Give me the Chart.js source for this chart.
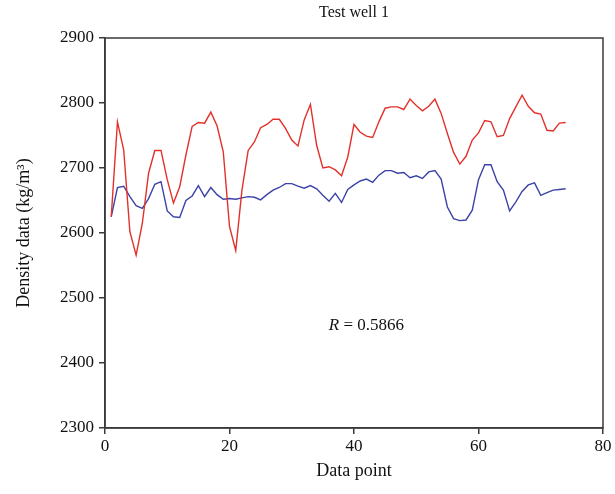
<!DOCTYPE html>
<html>
<head>
<meta charset="utf-8">
<script src="https://cdn.jsdelivr.net/npm/chart.js@4/dist/chart.umd.min.js"></script>
<style>
  body { margin: 0; background: #fff; }
  #wrap { width: 615px; height: 494px; }
</style>
</head>
<body>
<div id="wrap"><canvas id="densityChart" width="615" height="494"></canvas></div>
<script>
// data points 1..74
var points = []
for (var i = 1; i <= 74; i++) points.push(i)

var redSeries = [2625, 2771, 2728, 2602, 2566, 2615, 2692, 2727, 2727, 2682,
  2646, 2671, 2720, 2764, 2770, 2769, 2786, 2765, 2725, 2610,
  2573, 2666, 2727, 2740, 2762, 2767, 2775, 2775, 2761, 2743,
  2734, 2774, 2798, 2735, 2700, 2702, 2697, 2688, 2717, 2767,
  2755, 2749, 2747, 2771, 2792, 2794, 2794, 2790, 2806, 2796,
  2788, 2795, 2806, 2784, 2753, 2724, 2706, 2718, 2743, 2754,
  2773, 2771, 2748, 2750, 2776, 2794, 2812, 2795, 2785, 2783,
  2758, 2757, 2769, 2770]

var blueSeries = [2625, 2670, 2672, 2656, 2642, 2638, 2653, 2675, 2679, 2634,
  2625, 2624, 2650, 2657, 2673, 2656, 2670, 2659, 2652, 2653,
  2652, 2654, 2656, 2655, 2651, 2659, 2666, 2670, 2676, 2676,
  2672, 2669, 2673, 2668, 2658, 2649, 2661, 2647, 2667, 2674,
  2680, 2683, 2678, 2689, 2696, 2696, 2692, 2693, 2685, 2688,
  2684, 2694, 2696, 2683, 2640, 2622, 2619, 2620, 2635, 2682,
  2705, 2705, 2679, 2666, 2634, 2648, 2664, 2674, 2677, 2658,
  2662, 2666, 2667, 2668]

var xTicks = [0, 20, 40, 60, 80]
var yTicks = [2300, 2400, 2500, 2600, 2700, 2800, 2900]
var chartTitle = 'Test well 1'
var rText = '0.5866'

var serif = '"Liberation Serif", "DejaVu Serif", serif'
var axisColor = '#3a3a3a'

function toXY(vals) {
  return vals.map(function (v, k) { return { x: points[k], y: v } })
}

var framePlugin = {
  id: 'frame',
  afterDraw: function (chart) {
    var ctx = chart.ctx
    var a = chart.chartArea
    ctx.save()
    ctx.strokeStyle = axisColor
    ctx.lineWidth = 1.5
    ctx.strokeRect(a.left, a.top, a.right - a.left, a.bottom - a.top)
    // title
    ctx.fillStyle = '#111'
    ctx.font = '16px ' + serif
    ctx.textAlign = 'center'
    ctx.textBaseline = 'middle'
    ctx.fillText(chartTitle, (a.left + a.right) / 2, 13)
    // R annotation
    var xs = chart.scales.x, ys = chart.scales.y
    var px = xs.getPixelForValue(42), py = ys.getPixelForValue(2458)
    var r = 'R'
    ctx.font = '17px ' + serif
    var rest = ' = ' + rText
    var wRest = ctx.measureText(rest).width
    ctx.font = 'italic 17px ' + serif
    var wR = ctx.measureText(r).width
    var start = px - (wR + wRest) / 2
    ctx.textAlign = 'left'
    ctx.fillText(r, start, py)
    ctx.font = '17px ' + serif
    ctx.fillText(rest, start + wR, py)
    ctx.restore()
  }
}

function plainTick(v) { return String(v) }

new Chart(document.getElementById('densityChart'), {
  type: 'line',
  data: {
    datasets: [{
      label: 'Measured',
      data: toXY(redSeries),
      borderColor: '#e3302b',
      borderWidth: 1.4,
      pointRadius: 0,
      tension: 0,
      fill: false
    }, {
      label: 'Predicted',
      data: toXY(blueSeries),
      borderColor: '#3b43a6',
      borderWidth: 1.4,
      pointRadius: 0,
      tension: 0,
      fill: false
    }]
  },
  options: {
    responsive: false,
    animation: false,
    layout: { padding: { top: 38, right: 12, left: 0, bottom: 0 } },
    plugins: {
      legend: { display: false },
      title: { display: false },
      tooltip: { enabled: false }
    },
    scales: {
      x: {
        type: 'linear',
        min: 0,
        max: 80,
        afterBuildTicks: function (axis) {
          axis.ticks = xTicks.map(function (v) { return { value: v } })
        },
        afterFit: function (axis) { axis.height = 66 },
        grid: { drawOnChartArea: false, tickLength: 6, color: axisColor, lineWidth: 1.5 },
        border: { color: axisColor, width: 1.5 },
        ticks: { color: '#111', font: { family: serif, size: 17 }, padding: 2, maxRotation: 0, callback: plainTick },
        title: { display: true, text: 'Data point', color: '#111', font: { family: serif, size: 18 }, padding: { top: 0, bottom: 12 } }
      },
      y: {
        min: 2300,
        max: 2900,
        afterBuildTicks: function (axis) {
          axis.ticks = yTicks.map(function (v) { return { value: v } })
        },
        afterFit: function (axis) { axis.width = 105 },
        grid: { drawOnChartArea: false, tickLength: 6, color: axisColor, lineWidth: 1.5 },
        border: { color: axisColor, width: 1.5 },
        ticks: { color: '#111', font: { family: serif, size: 17 }, padding: 5, callback: plainTick },
        title: { display: true, text: 'Density data (kg/m\u00B3)', color: '#111', font: { family: serif, size: 18 }, padding: { top: 13, bottom: 4 } }
      }
    }
  },
  plugins: [framePlugin]
})
</script>
</body>
</html>
